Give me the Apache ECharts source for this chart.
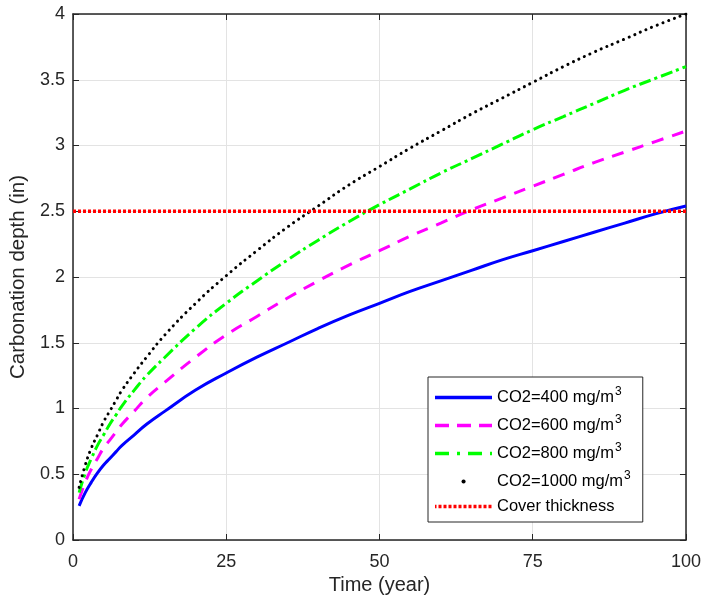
<!DOCTYPE html>
<html>
<head>
<meta charset="utf-8">
<script src="https://cdn.jsdelivr.net/npm/echarts@6/dist/echarts.min.js"></script>
<style>
  html, body { margin: 0; padding: 0; background: #fff; }
  #chart { width: 704px; height: 606px; }
</style>
</head>
<body>
<div id="chart"></div>
<script>
// time in years
const years = [1, 2, 3, 4, 5, 6, 7, 8, 10, 12, 15, 20, 25, 30, 35, 40, 45, 50, 55, 60, 65, 70, 75, 80, 85, 90, 95, 100];
// carbonation depth (in)
const co2_400 = [0.26, 0.36, 0.44, 0.51, 0.57, 0.62, 0.67, 0.72, 0.80, 0.88, 0.98, 1.14, 1.27, 1.39, 1.50, 1.61, 1.71, 1.80, 1.89, 1.97, 2.05, 2.13, 2.20, 2.27, 2.34, 2.41, 2.48, 2.54];
const co2_600 = [0.31, 0.44, 0.54, 0.62, 0.70, 0.76, 0.82, 0.88, 0.98, 1.08, 1.20, 1.39, 1.56, 1.70, 1.84, 1.97, 2.09, 2.20, 2.31, 2.41, 2.51, 2.60, 2.69, 2.78, 2.87, 2.95, 3.03, 3.11];
const co2_800 = [0.36, 0.51, 0.62, 0.72, 0.80, 0.88, 0.95, 1.02, 1.14, 1.25, 1.39, 1.61, 1.80, 1.97, 2.13, 2.28, 2.42, 2.55, 2.67, 2.79, 2.90, 3.01, 3.12, 3.22, 3.32, 3.42, 3.51, 3.60];
const co2_1000 = [0.40, 0.57, 0.70, 0.80, 0.90, 0.98, 1.06, 1.14, 1.27, 1.39, 1.56, 1.80, 2.01, 2.20, 2.38, 2.54, 2.70, 2.84, 2.98, 3.11, 3.24, 3.36, 3.48, 3.60, 3.71, 3.81, 3.91, 4.00];
const coverX = [0, 100];
const coverY = [2.5, 2.5];

const names = ['CO2=400 mg/m3', 'CO2=600 mg/m3', 'CO2=800 mg/m3', 'CO2=1000 mg/m3', 'Cover thickness'];

const pairs = (xs, ys) => xs.map((x, i) => [x, ys[i]]);

const chart = echarts.init(document.getElementById('chart'));
const font = '"Liberation Sans", Arial, sans-serif';
const axisColor = '#262626';

const baseX = {
  type: 'value', min: 0, max: 100, interval: 25,
  axisLine: { show: true, onZero: false, lineStyle: { color: axisColor, width: 1.5 } },
  axisTick: { show: true, inside: true, length: 6, lineStyle: { color: axisColor } },
};
const baseY = {
  type: 'value', min: 0, max: 4, interval: 0.5,
  axisLine: { show: true, onZero: false, lineStyle: { color: axisColor, width: 1.5 } },
  axisTick: { show: true, inside: true, length: 6, lineStyle: { color: axisColor } },
};

const options = {
  animation: false,
  textStyle: { fontFamily: font },
  grid: { left: 73, right: 18, top: 14, bottom: 66 },
  xAxis: [
    Object.assign({}, baseX, {
      position: 'bottom',
      name: 'Time (year)', nameLocation: 'middle', nameGap: 35,
      nameTextStyle: { fontSize: 20, color: axisColor, fontFamily: font },
      axisLabel: { fontSize: 18, color: axisColor, margin: 13, fontFamily: font },
      splitLine: { show: true, lineStyle: { color: '#e3e3e3', width: 1 } },
    }),
    Object.assign({}, baseX, {
      position: 'top',
      axisLabel: { show: false },
      splitLine: { show: false },
    }),
  ],
  yAxis: [
    Object.assign({}, baseY, {
      position: 'left',
      name: 'Carbonation depth (in)', nameLocation: 'middle', nameGap: 39,
      nameTextStyle: { fontSize: 20.5, color: axisColor, fontFamily: font },
      axisLabel: { fontSize: 18, color: axisColor, margin: 8, fontFamily: font },
      splitLine: { show: true, lineStyle: { color: '#e3e3e3', width: 1 } },
    }),
    Object.assign({}, baseY, {
      position: 'right',
      axisLabel: { show: false },
      splitLine: { show: false },
    }),
  ],
  legend: {
    orient: 'vertical',
    left: 428, top: 377,
    width: 211,
    padding: [9, 12, 7, 5],
    itemGap: 8,
    itemWidth: 57, itemHeight: 20,
    backgroundColor: '#fff',
    borderColor: '#262626', borderWidth: 1, borderRadius: 0,
    itemStyle: { opacity: 0 },
    textStyle: {
      fontSize: 16.5, color: '#000', fontFamily: font,
      rich: { sup: { fontSize: 12, padding: [0, 0, 11, 1] } },
    },
    formatter: (n) => n.endsWith('mg/m3') ? n.slice(0, -1) + '{sup|3}' : n,
    data: [
      { name: names[0], lineStyle: { width: 3.5 } },
      { name: names[1], lineStyle: { type: [14, 8], width: 3.5 } },
      { name: names[2], lineStyle: { type: [14, 8, 3, 8], width: 3.5 } },
      { name: names[3], lineStyle: { type: [0.1, 300], dashOffset: -28.5, width: 4 } },
      { name: names[4], lineStyle: { type: [3, 2], width: 3.5 } },
    ],
  },
  series: [
    {
      name: names[0], type: 'line', data: pairs(years, co2_400),
      smooth: true, symbol: 'none',
      lineStyle: { color: '#0000ff', width: 3 }, itemStyle: { color: '#0000ff' },
    },
    {
      name: names[1], type: 'line', data: pairs(years, co2_600),
      smooth: true, symbol: 'none',
      lineStyle: { color: '#ff00ff', width: 3, type: [12, 9] }, itemStyle: { color: '#ff00ff' },
    },
    {
      name: names[2], type: 'line', data: pairs(years, co2_800),
      smooth: true, symbol: 'none',
      lineStyle: { color: '#00ff00', width: 3, type: [12, 4, 3, 4] }, itemStyle: { color: '#00ff00' },
    },
    {
      name: names[3], type: 'line', data: pairs(years, co2_1000),
      smooth: true, symbol: 'none',
      lineStyle: { color: '#000', width: 3, type: [0.1, 6], cap: 'round' }, itemStyle: { color: '#000' },
    },
    {
      name: names[4], type: 'line', data: pairs(coverX, coverY),
      symbol: 'none',
      lineStyle: { color: '#ff0000', width: 3.5, type: [3, 2] }, itemStyle: { color: '#ff0000' },
    },
  ],
};

chart.setOption(options);
</script>
</body>
</html>
